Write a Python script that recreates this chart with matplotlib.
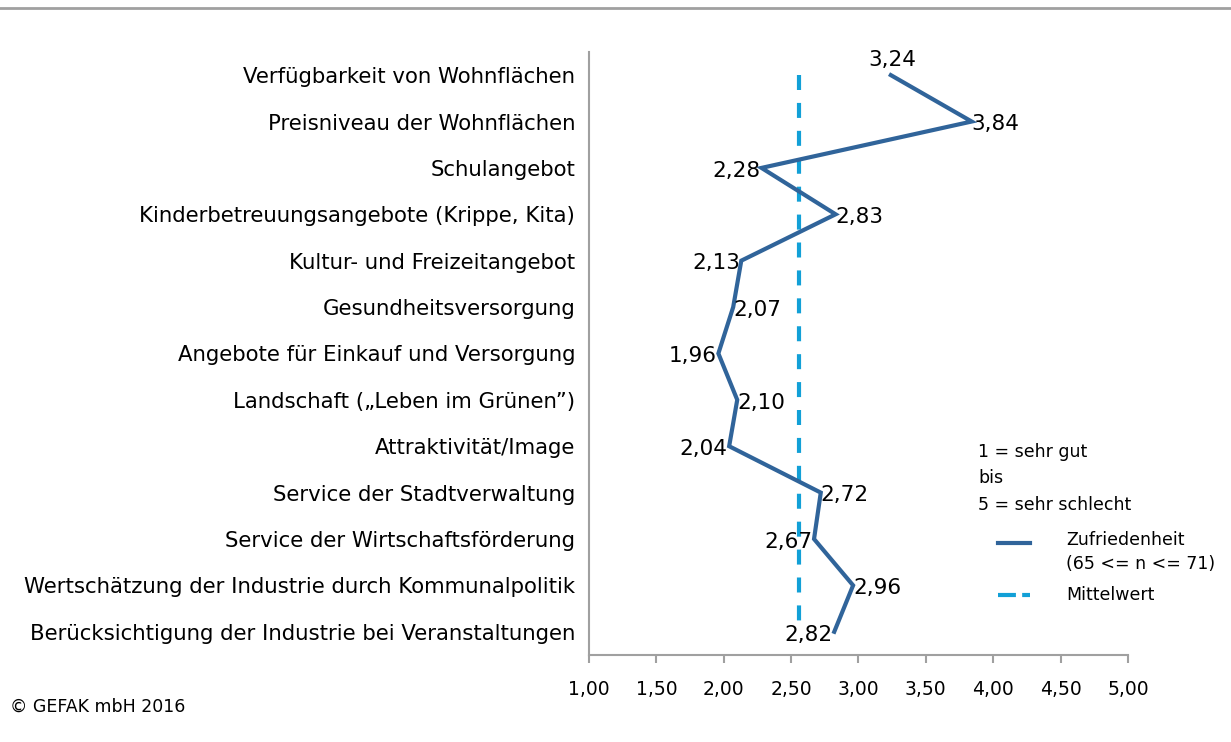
import matplotlib
matplotlib.use('Agg')
import matplotlib.pyplot as plt
from matplotlib.lines import Line2D

categories = [
    'Verfügbarkeit von Wohnflächen',
    'Preisniveau der Wohnflächen',
    'Schulangebot',
    'Kinderbetreuungsangebote (Krippe, Kita)',
    'Kultur- und Freizeitangebot',
    'Gesundheitsversorgung',
    'Angebote für Einkauf und Versorgung',
    'Landschaft (\u201eLeben im Grünen\u201d)',
    'Attraktivität/Image',
    'Service der Stadtverwaltung',
    'Service der Wirtschaftsförderung',
    'Wertschätzung der Industrie durch Kommunalpolitik',
    'Berücksichtigung der Industrie bei Veranstaltungen',
]
zufriedenheit = [3.24, 3.84, 2.28, 2.83, 2.13, 2.07, 1.96, 2.10, 2.04, 2.72, 2.67, 2.96, 2.82]
mittelwert = [2.56] * len(categories)
x_ticks = [1.0, 1.5, 2.0, 2.5, 3.0, 3.5, 4.0, 4.5, 5.0]
# where Excel put each data label
label_side = ['above', 'right', 'left', 'right', 'left', 'right', 'left',
              'right', 'left', 'right', 'left', 'right', 'left']

LINE_BLUE = '#30649A'
MEAN_BLUE = '#12A0D7'
AXIS_GRAY = '#A0A0A0'

plt.rcParams['font.family'] = ['DejaVu Sans']

fig = plt.figure(figsize=(12.31, 7.42), dpi=100)
ax = fig.add_axes([0.4785, 0.1173, 0.4378, 0.8127])

y = list(range(len(categories)))
ax.plot(zufriedenheit, y, color=LINE_BLUE, lw=3, solid_joinstyle='miter', zorder=3)
ax.plot(mittelwert, y, color=MEAN_BLUE, lw=3, dashes=(3.6, 3.1), zorder=2)

for val, yi, side in zip(zufriedenheit, y, label_side):
    txt = f'{val:.2f}'.replace('.', ',')
    if side == 'above':
        ax.annotate(txt, (val, yi), xytext=(1, 4), textcoords='offset points',
                    ha='center', va='bottom', fontsize=15.5)
    elif side == 'right':
        ax.annotate(txt, (val, yi), xytext=(0, -2), textcoords='offset points',
                    ha='left', va='center', fontsize=15.5)
    else:
        ax.annotate(txt, (val, yi), xytext=(-1, -2), textcoords='offset points',
                    ha='right', va='center', fontsize=15.5)

ax.set_xlim(1, 5)
ax.set_ylim(len(categories) - 0.5, -0.5)
ax.set_xticks(x_ticks)
ax.set_xticklabels([f'{t:.2f}'.replace('.', ',') for t in x_ticks], fontsize=13.5)
ax.set_yticks(y)
ax.set_yticklabels(categories, fontsize=15.3)
ax.tick_params(axis='y', length=0, pad=10)
ax.tick_params(axis='x', length=6, width=1.5, color=AXIS_GRAY, pad=12)
for s in ['top', 'right']:
    ax.spines[s].set_visible(False)
for s in ['left', 'bottom']:
    ax.spines[s].set_color(AXIS_GRAY)
    ax.spines[s].set_linewidth(1.5)

# legend block, drawn by hand like the Excel legend
leg_fs = 12.5
fig.text(0.7945, 0.391, '1 = sehr gut', fontsize=leg_fs, va='center')
fig.text(0.7945, 0.356, 'bis', fontsize=leg_fs, va='center')
fig.text(0.7945, 0.320, '5 = sehr schlecht', fontsize=leg_fs, va='center')
fig.add_artist(Line2D([0.811, 0.837], [0.268, 0.268], color=LINE_BLUE, lw=3,
                      transform=fig.transFigure))
fig.text(0.866, 0.272, 'Zufriedenheit', fontsize=leg_fs, va='center')
fig.text(0.866, 0.240, '(65 <= n <= 71)', fontsize=leg_fs, va='center')
fig.add_artist(Line2D([0.811, 0.837], [0.198, 0.198], color=MEAN_BLUE, lw=3,
                      dashes=(4.3, 1.5), transform=fig.transFigure))
fig.text(0.866, 0.198, 'Mittelwert', fontsize=leg_fs, va='center')

fig.text(0.008, 0.048, '© GEFAK mbH 2016', fontsize=12.5, va='center')
fig.add_artist(Line2D([0, 1], [0.989, 0.989], color=AXIS_GRAY, lw=2, transform=fig.transFigure))

fig.savefig('out.png', dpi=100)
